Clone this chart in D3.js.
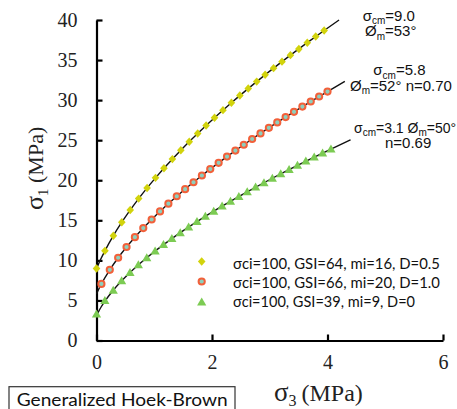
<!DOCTYPE html>
<html><head><meta charset="utf-8">
<script src="https://cdn.jsdelivr.net/npm/d3@7"></script>
<style>body{margin:0;background:#fff}svg{display:block}</style>
</head><body><svg id="c" width="457" height="409"></svg>
<script>
// ---- data ----
const yellowS3 = [0,0.146,0.292,0.438,0.584,0.730,0.876,1.022,1.168,1.314,1.460,1.606,1.752,1.898,2.044,2.190,2.336,2.482,2.628,2.774,2.920,3.066,3.212,3.358,3.504,3.650,3.796,3.942];
const yellowS1 = [8.98,11.19,13.08,14.76,16.29,17.71,19.04,20.30,21.50,22.64,23.75,24.81,25.84,26.83,27.80,28.75,29.67,30.57,31.45,32.31,33.16,33.99,34.80,35.61,36.39,37.17,37.94,38.69];
const redS3 = [0.085,0.230,0.375,0.520,0.665,0.810,0.955,1.100,1.245,1.390,1.535,1.680,1.825,1.970,2.115,2.260,2.405,2.550,2.695,2.840,2.985,3.130,3.275,3.420,3.565,3.710,3.855,4.000];
const redS1 = [7.06,8.82,10.33,11.67,12.89,14.03,15.10,16.11,17.08,18.00,18.89,19.75,20.59,21.40,22.18,22.95,23.70,24.43,25.15,25.85,26.54,27.22,27.89,28.54,29.19,29.83,30.45,31.07];
const greenS3 = [0,0.145,0.290,0.435,0.580,0.725,0.870,1.015,1.160,1.305,1.450,1.595,1.740,1.885,2.030,2.175,2.320,2.465,2.610,2.755,2.900,3.045,3.190,3.335,3.480,3.625,3.770,3.915,4.060];
const greenS1 = [3.30,4.98,6.27,7.44,8.48,9.44,10.33,11.16,11.96,12.72,13.45,14.15,14.83,15.49,16.13,16.76,17.37,17.97,18.55,19.13,19.69,20.25,20.79,21.33,21.86,22.38,22.89,23.40,23.90];
// fitted envelopes (black curves)
const yellowFitS3 = [0,0.03,0.07,0.146,0.292,0.438,0.73,1.022,1.46,1.898,2.336,2.774,3.212,3.65,3.942,4.2];
const yellowFitS1 = [8.98,9.47,10.10,11.19,13.08,14.76,17.71,20.30,23.75,26.83,29.67,32.31,34.80,37.17,38.69,40.0];
const redFitS3 = [0,0.03,0.085,0.23,0.375,0.665,0.955,1.39,1.825,2.26,2.695,3.13,3.565,4.0,4.3];
const redFitS1 = [5.82,6.28,7.06,8.82,10.33,12.89,15.10,18.00,20.59,22.95,25.15,27.22,29.19,31.07,32.33];
const greenFitS3 = [0,0.04,0.08,0.145,0.29,0.58,0.87,1.305,1.74,2.175,2.61,3.045,3.48,3.915,4.4];
const greenFitS1 = [3.11,3.67,4.18,4.90,6.27,8.48,10.33,12.72,14.83,16.76,18.55,20.25,21.86,23.40,25.05];
const xTicks = [0,2,4,6];
const yTicks = [0,5,10,15,20,25,30,35,40];
const legendLabels = ["σci=100, GSI=64, mi=16, D=0.5","σci=100, GSI=66, mi=20, D=1.0","σci=100, GSI=39, mi=9, D=0"];

const svg = d3.select("#c");
const x = d3.scaleLinear().domain([0,6]).range([96.5,443]);
const y = d3.scaleLinear().domain([0,40]).range([340.5,20]);

// axes
const gx = svg.append("g").attr("transform","translate(0,340.5)")
  .call(d3.axisBottom(x).tickValues(xTicks).tickSizeInner(-6).tickSizeOuter(0).tickPadding(14).tickFormat(d3.format("d")));
const gy = svg.append("g").attr("transform","translate(96.5,0)")
  .call(d3.axisLeft(y).tickValues(yTicks).tickSizeInner(-6).tickSizeOuter(0).tickPadding(19).tickFormat(d3.format("d")));
[gx,gy].forEach(g=>{
  g.select(".domain").attr("stroke","#000").attr("stroke-width",2.2);
  g.selectAll(".tick line").attr("stroke","#000").attr("stroke-width",2.2);
  g.selectAll(".tick text").attr("font-family","'Liberation Serif',serif").attr("font-size",20).attr("fill","#222");
});

// fitted lines
const line = d3.line().x(d=>x(d[0])).y(d=>y(d[1])).curve(d3.curveMonotoneX);
[[yellowFitS3,yellowFitS1],[redFitS3,redFitS1],[greenFitS3,greenFitS1]].forEach(([a,b])=>{
  svg.append("path").datum(a.map((v,i)=>[v,b[i]])).attr("d",line)
    .attr("fill","none").attr("stroke","#111").attr("stroke-width",1.4);
});

// markers
const yellowC = "#d2d30c", redC = "#f2603a", redFill = "#8ccfbd", greenC = "#7ccb53";
const diamond = "M0,-4.2L3.8,0L0,4.2L-3.8,0Z";
const tri = "M0,-4.6L4.6,3.4L-4.6,3.4Z";
svg.append("g").selectAll("path").data(yellowS3.map((v,i)=>[v,yellowS1[i]])).join("path")
  .attr("d",diamond).attr("transform",d=>`translate(${x(d[0])},${y(d[1])})`).attr("fill",yellowC);
svg.append("g").selectAll("circle").data(redS3.map((v,i)=>[v,redS1[i]])).join("circle")
  .attr("cx",d=>x(d[0])).attr("cy",d=>y(d[1])).attr("r",3.1)
  .attr("fill",redFill).attr("stroke",redC).attr("stroke-width",2);
svg.append("g").selectAll("path").data(greenS3.map((v,i)=>[v,greenS1[i]])).join("path")
  .attr("d",tri).attr("transform",d=>`translate(${x(d[0])},${y(d[1])})`).attr("fill",greenC);

// legend
const lg = svg.append("g");
lg.append("path").attr("d",diamond).attr("transform","translate(201.7,261.5)").attr("fill",yellowC);
lg.append("circle").attr("cx",201.7).attr("cy",281.5).attr("r",3.1).attr("fill",redFill).attr("stroke",redC).attr("stroke-width",2);
lg.append("path").attr("d",tri).attr("transform","translate(201.7,302)").attr("fill",greenC);
lg.selectAll("text").data(legendLabels).join("text")
  .attr("x",233).attr("y",(d,i)=>[269,287.7,306.7][i])
  .attr("font-family","Lato, sans-serif").attr("font-size",15).attr("fill","#111")
  .attr("textLength",207).attr("lengthAdjust","spacingAndGlyphs").text(d=>d);
lg.selectAll("text").filter((d,i)=>i===2).attr("textLength",182);

// annotations: parts are strings, or {sub:"..."} subscripts
function ann(xp, yp, parts, fs){
  const t = svg.append("text").attr("x",xp).attr("y",yp)
    .attr("font-family","'Liberation Sans',Arial,sans-serif").attr("font-size",fs||15).attr("fill","#111");
  let shifted = false;
  parts.forEach(p=>{
    if(typeof p === "object"){
      t.append("tspan").attr("dy",3.5).attr("font-size",10).text(p.sub);
      shifted = true;
    } else {
      const s = t.append("tspan").text(p);
      if(shifted){ s.attr("dy",-3.5); shifted = false; }
    }
  });
}
ann(362.7,20.5,["σ",{sub:"cm"},"=9.0"]);
ann(365,36,["Ø",{sub:"m"},"=53°"]);
ann(373.3,75,["σ",{sub:"cm"},"=5.8"]);
ann(350,90.5,["Ø",{sub:"m"},"=52° n=0.70"]);
ann(354,132.7,["σ",{sub:"cm"},"=3.1 Ø",{sub:"m"},"=50°"],14);
ann(385,147.5,["n=0.69"]);

// axis titles
const serif = "'Liberation Serif',serif";
const xt = svg.append("text").attr("x",274).attr("y",401).attr("font-family",serif).attr("font-size",24).attr("fill","#222");
xt.append("tspan").attr("font-size",27).text("σ");
xt.append("tspan").attr("dy",5).attr("font-size",16).text("3");
xt.append("tspan").attr("dy",-5).attr("x",301.5).text("(MPa)");
const yt = svg.append("text").attr("transform","translate(43,210) rotate(-90)").attr("font-family",serif).attr("font-size",22).attr("fill","#222");
yt.append("tspan").attr("font-size",26).text("σ");
yt.append("tspan").attr("dy",5).attr("font-size",15).text("1");
yt.append("tspan").attr("dy",-5).text(" (MPa)");

// method box
svg.append("rect").attr("x",9).attr("y",386.7).attr("width",226).attr("height",30)
  .attr("fill","none").attr("stroke","#333").attr("stroke-width",1.2);
svg.append("text").attr("x",16.7).attr("y",406).attr("font-family","Lato, sans-serif").attr("font-size",17.5)
  .attr("fill","#111").attr("textLength",211).attr("lengthAdjust","spacingAndGlyphs").text("Generalized Hoek-Brown");
</script></body></html>
